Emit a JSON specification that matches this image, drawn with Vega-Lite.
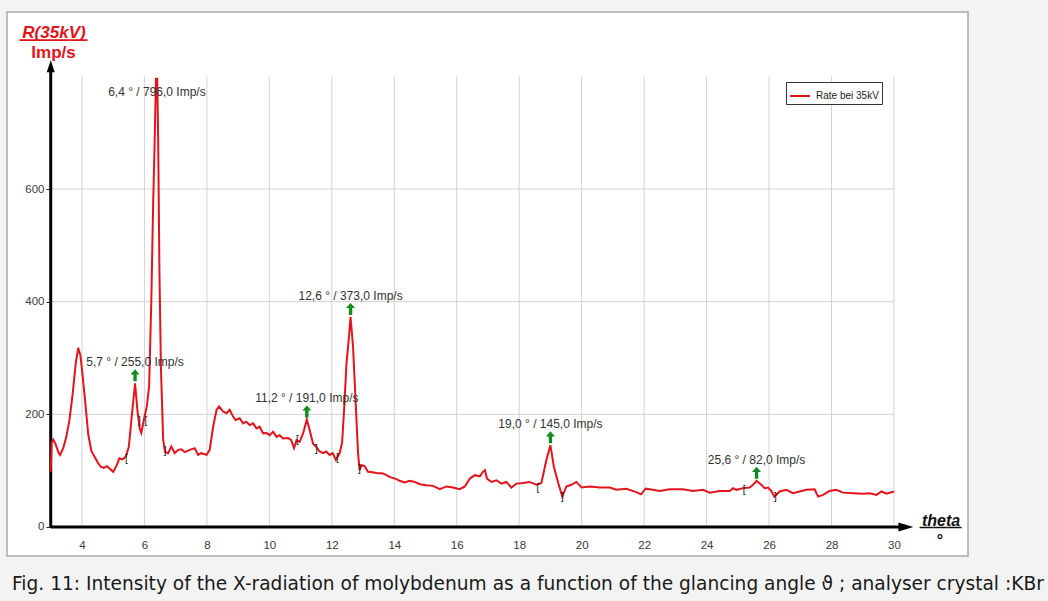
{
  "$schema": "https://vega.github.io/schema/vega-lite/v6.json",
  "width": 961,
  "height": 544,
  "autosize": {"type": "none"},
  "padding": {"left": 7, "top": 12, "right": 80, "bottom": 45},
  "background": "#f3f3f3",
  "config": {
    "view": {"fill": "white", "stroke": "#a9a9a9", "strokeWidth": 1.5},
    "font": "Liberation Sans"
  },
  "title": {
    "text": "Fig. 11: Intensity of the X-radiation of molybdenum as a function of the glancing angle ϑ ; analyser crystal :KBr",
    "orient": "bottom",
    "anchor": "start",
    "frame": "group",
    "font": "DejaVu Sans",
    "fontSize": 18.6,
    "fontWeight": "normal",
    "color": "#1a1a1a",
    "baseline": "alphabetic",
    "offset": 34,
    "dx": 5
  },
  "datasets": {
    "curve": [
      {"theta": 3.00, "rate": 98}, {"theta": 3.03, "rate": 150}, {"theta": 3.08, "rate": 155}, {"theta": 3.15, "rate": 148},
      {"theta": 3.25, "rate": 132}, {"theta": 3.30, "rate": 128}, {"theta": 3.40, "rate": 140}, {"theta": 3.50, "rate": 160},
      {"theta": 3.60, "rate": 190}, {"theta": 3.70, "rate": 235}, {"theta": 3.80, "rate": 290}, {"theta": 3.88, "rate": 318},
      {"theta": 3.95, "rate": 305}, {"theta": 4.00, "rate": 280}, {"theta": 4.10, "rate": 225}, {"theta": 4.20, "rate": 165},
      {"theta": 4.30, "rate": 135}, {"theta": 4.40, "rate": 125}, {"theta": 4.50, "rate": 115}, {"theta": 4.60, "rate": 107},
      {"theta": 4.70, "rate": 105}, {"theta": 4.80, "rate": 108}, {"theta": 4.90, "rate": 103}, {"theta": 5.00, "rate": 98},
      {"theta": 5.10, "rate": 108}, {"theta": 5.20, "rate": 122}, {"theta": 5.30, "rate": 120}, {"theta": 5.40, "rate": 125},
      {"theta": 5.50, "rate": 142}, {"theta": 5.60, "rate": 200}, {"theta": 5.70, "rate": 255}, {"theta": 5.78, "rate": 205},
      {"theta": 5.85, "rate": 175}, {"theta": 5.90, "rate": 167}, {"theta": 5.98, "rate": 190}, {"theta": 6.08, "rate": 215},
      {"theta": 6.15, "rate": 250}, {"theta": 6.22, "rate": 400}, {"theta": 6.28, "rate": 575}, {"theta": 6.33, "rate": 690},
      {"theta": 6.37, "rate": 796}, {"theta": 6.41, "rate": 796}, {"theta": 6.44, "rate": 690}, {"theta": 6.48, "rate": 456},
      {"theta": 6.53, "rate": 280}, {"theta": 6.60, "rate": 155}, {"theta": 6.66, "rate": 133}, {"theta": 6.76, "rate": 131},
      {"theta": 6.86, "rate": 143}, {"theta": 6.97, "rate": 131}, {"theta": 7.08, "rate": 137}, {"theta": 7.18, "rate": 138},
      {"theta": 7.29, "rate": 133}, {"theta": 7.45, "rate": 137}, {"theta": 7.61, "rate": 140}, {"theta": 7.72, "rate": 128},
      {"theta": 7.82, "rate": 131}, {"theta": 7.99, "rate": 128}, {"theta": 8.09, "rate": 137}, {"theta": 8.20, "rate": 178},
      {"theta": 8.31, "rate": 208}, {"theta": 8.39, "rate": 214}, {"theta": 8.52, "rate": 205}, {"theta": 8.63, "rate": 202},
      {"theta": 8.73, "rate": 208}, {"theta": 8.84, "rate": 196}, {"theta": 8.92, "rate": 190}, {"theta": 9.05, "rate": 193},
      {"theta": 9.16, "rate": 184}, {"theta": 9.26, "rate": 187}, {"theta": 9.37, "rate": 181}, {"theta": 9.48, "rate": 184},
      {"theta": 9.59, "rate": 175}, {"theta": 9.69, "rate": 178}, {"theta": 9.80, "rate": 166}, {"theta": 9.90, "rate": 167},
      {"theta": 10.01, "rate": 163}, {"theta": 10.12, "rate": 169}, {"theta": 10.23, "rate": 160}, {"theta": 10.33, "rate": 163},
      {"theta": 10.44, "rate": 157}, {"theta": 10.60, "rate": 158}, {"theta": 10.70, "rate": 154}, {"theta": 10.79, "rate": 140},
      {"theta": 10.87, "rate": 154}, {"theta": 10.97, "rate": 151}, {"theta": 11.08, "rate": 166}, {"theta": 11.20, "rate": 191},
      {"theta": 11.29, "rate": 172}, {"theta": 11.40, "rate": 148}, {"theta": 11.49, "rate": 143}, {"theta": 11.61, "rate": 134},
      {"theta": 11.72, "rate": 131}, {"theta": 11.82, "rate": 134}, {"theta": 11.93, "rate": 128}, {"theta": 12.03, "rate": 131},
      {"theta": 12.13, "rate": 119}, {"theta": 12.25, "rate": 131}, {"theta": 12.33, "rate": 150}, {"theta": 12.40, "rate": 214},
      {"theta": 12.47, "rate": 291}, {"theta": 12.55, "rate": 338}, {"theta": 12.60, "rate": 373}, {"theta": 12.68, "rate": 320},
      {"theta": 12.73, "rate": 261}, {"theta": 12.79, "rate": 190}, {"theta": 12.84, "rate": 131}, {"theta": 12.89, "rate": 101},
      {"theta": 12.95, "rate": 110}, {"theta": 13.05, "rate": 108}, {"theta": 13.16, "rate": 98}, {"theta": 13.30, "rate": 97},
      {"theta": 13.43, "rate": 96}, {"theta": 13.64, "rate": 95}, {"theta": 13.85, "rate": 89}, {"theta": 14.07, "rate": 85},
      {"theta": 14.17, "rate": 82}, {"theta": 14.33, "rate": 79}, {"theta": 14.49, "rate": 82}, {"theta": 14.66, "rate": 80},
      {"theta": 14.82, "rate": 76}, {"theta": 15.03, "rate": 74}, {"theta": 15.24, "rate": 73}, {"theta": 15.46, "rate": 67},
      {"theta": 15.67, "rate": 72}, {"theta": 15.88, "rate": 70}, {"theta": 16.09, "rate": 67}, {"theta": 16.26, "rate": 72},
      {"theta": 16.42, "rate": 86}, {"theta": 16.58, "rate": 92}, {"theta": 16.74, "rate": 90}, {"theta": 16.84, "rate": 98},
      {"theta": 16.90, "rate": 101}, {"theta": 16.97, "rate": 86}, {"theta": 17.11, "rate": 80}, {"theta": 17.27, "rate": 83},
      {"theta": 17.43, "rate": 77}, {"theta": 17.59, "rate": 80}, {"theta": 17.75, "rate": 70}, {"theta": 17.91, "rate": 77},
      {"theta": 18.12, "rate": 78}, {"theta": 18.33, "rate": 80}, {"theta": 18.55, "rate": 75}, {"theta": 18.71, "rate": 78},
      {"theta": 18.87, "rate": 119}, {"theta": 19.00, "rate": 145}, {"theta": 19.11, "rate": 107}, {"theta": 19.25, "rate": 78},
      {"theta": 19.38, "rate": 54}, {"theta": 19.51, "rate": 72}, {"theta": 19.67, "rate": 75}, {"theta": 19.83, "rate": 80},
      {"theta": 20.00, "rate": 70}, {"theta": 20.26, "rate": 72}, {"theta": 20.58, "rate": 70}, {"theta": 20.90, "rate": 70},
      {"theta": 21.11, "rate": 66}, {"theta": 21.43, "rate": 68}, {"theta": 21.75, "rate": 62}, {"theta": 21.90, "rate": 58},
      {"theta": 22.05, "rate": 68}, {"theta": 22.18, "rate": 67}, {"theta": 22.50, "rate": 64}, {"theta": 22.82, "rate": 67},
      {"theta": 23.24, "rate": 67}, {"theta": 23.56, "rate": 64}, {"theta": 23.89, "rate": 66}, {"theta": 24.10, "rate": 61},
      {"theta": 24.42, "rate": 64}, {"theta": 24.74, "rate": 64}, {"theta": 24.85, "rate": 69}, {"theta": 24.96, "rate": 66},
      {"theta": 25.17, "rate": 69}, {"theta": 25.38, "rate": 70}, {"theta": 25.49, "rate": 75}, {"theta": 25.60, "rate": 82},
      {"theta": 25.75, "rate": 75}, {"theta": 25.86, "rate": 69}, {"theta": 25.97, "rate": 70}, {"theta": 26.07, "rate": 64},
      {"theta": 26.17, "rate": 54}, {"theta": 26.34, "rate": 63}, {"theta": 26.55, "rate": 66}, {"theta": 26.77, "rate": 60},
      {"theta": 26.98, "rate": 63}, {"theta": 27.19, "rate": 66}, {"theta": 27.46, "rate": 67}, {"theta": 27.57, "rate": 54},
      {"theta": 27.73, "rate": 57}, {"theta": 27.94, "rate": 64}, {"theta": 28.15, "rate": 66}, {"theta": 28.37, "rate": 61},
      {"theta": 28.69, "rate": 60}, {"theta": 29.02, "rate": 59}, {"theta": 29.23, "rate": 60}, {"theta": 29.44, "rate": 57},
      {"theta": 29.60, "rate": 63}, {"theta": 29.76, "rate": 59}, {"theta": 30.00, "rate": 63}
    ],
    "peaks": [
      {"theta": 5.7, "rate": 255, "label": "5,7 ° / 255,0 Imp/s", "top": "no"},
      {"theta": 6.4, "rate": 796, "label": "6,4 ° / 796,0 Imp/s", "top": "yes"},
      {"theta": 11.2, "rate": 191, "label": "11,2 ° / 191,0 Imp/s", "top": "no"},
      {"theta": 12.6, "rate": 373, "label": "12,6 ° / 373,0 Imp/s", "top": "no"},
      {"theta": 19.0, "rate": 145, "label": "19,0 ° / 145,0 Imp/s", "top": "no"},
      {"theta": 25.6, "rate": 82, "label": "25,6 ° / 82,0 Imp/s", "top": "no"}
    ],
    "limits": [
      {"theta": 5.42, "rate": 121, "mark": "["},
      {"theta": 5.84, "rate": 188, "mark": "]"},
      {"theta": 6.05, "rate": 188, "mark": "["},
      {"theta": 6.66, "rate": 135, "mark": "]"},
      {"theta": 10.90, "rate": 154, "mark": "["},
      {"theta": 11.51, "rate": 138, "mark": "]"},
      {"theta": 12.18, "rate": 122, "mark": "["},
      {"theta": 12.88, "rate": 103, "mark": "]"},
      {"theta": 18.60, "rate": 69, "mark": "["},
      {"theta": 19.38, "rate": 53, "mark": "]"},
      {"theta": 25.20, "rate": 66, "mark": "["},
      {"theta": 26.20, "rate": 53, "mark": "]"}
    ],
    "vgrid": [
      {"theta": 4}, {"theta": 6}, {"theta": 8}, {"theta": 10}, {"theta": 12}, {"theta": 14}, {"theta": 16},
      {"theta": 18}, {"theta": 20}, {"theta": 22}, {"theta": 24}, {"theta": 26}, {"theta": 28}, {"theta": 30}
    ],
    "hgrid": [{"rate": 200}, {"rate": 400}, {"rate": 600}],
    "one": [{"k": 1}]
  },
  "layer": [
    {
      "data": {"name": "vgrid"},
      "mark": {"type": "rule", "color": "#d2d2d2", "strokeWidth": 1},
      "encoding": {
        "x": {"field": "theta", "type": "quantitative",
          "scale": {"domain": [1.6, 32.37], "nice": false, "zero": false},
          "axis": {"orient": "bottom", "offset": -29, "domain": false, "ticks": false, "labels": false, "grid": false,
            "title": "———", "titleFont": "Liberation Sans", "titleFontSize": 14, "titleFontWeight": "bold", "titleColor": "#111",
            "titleX": 933, "titleY": 4.8, "titleAlign": "center", "titleBaseline": "alphabetic", "titleAngle": 0}},
        "y": {"datum": 0, "type": "quantitative",
          "scale": {"domain": [-51.5, 914.3], "nice": false, "zero": false},
          "axis": {"orient": "left", "offset": -44, "domain": false, "ticks": false, "labels": false, "grid": false,
            "title": "Imp/s", "titleFont": "Liberation Sans", "titleFontSize": 17, "titleFontWeight": "bold", "titleColor": "#e3141b",
            "titleX": 2, "titleY": 45, "titleAlign": "center", "titleBaseline": "alphabetic", "titleAngle": 0}},
        "y2": {"datum": 800}
      }
    },
    {
      "data": {"name": "hgrid"},
      "mark": {"type": "rule", "color": "#d2d2d2", "strokeWidth": 1},
      "encoding": {
        "y": {"field": "rate", "type": "quantitative",
          "scale": {"domain": [-51.5, 914.3], "nice": false, "zero": false},
          "axis": {"orient": "left", "offset": -44, "domain": false, "ticks": false, "labels": false, "grid": false,
            "title": "————", "titleFont": "Liberation Sans", "titleFontSize": 17, "titleFontWeight": "bold", "titleColor": "#e3141b",
            "titleX": 2, "titleY": 32.6, "titleAlign": "center", "titleBaseline": "alphabetic", "titleAngle": 0}},
        "x": {"datum": 3, "type": "quantitative",
          "scale": {"domain": [1.6, 32.37], "nice": false, "zero": false},
          "axis": {"orient": "bottom", "offset": -29, "domain": false, "ticks": false, "labels": false, "grid": false,
            "title": "°", "titleFont": "Liberation Sans", "titleFontSize": 16, "titleFontWeight": "bold", "titleColor": "#111",
            "titleX": 932.5, "titleY": 18.7, "titleAlign": "center", "titleBaseline": "alphabetic", "titleAngle": 0}},
        "x2": {"datum": 30}
      }
    },
    {
      "data": {"name": "one"},
      "mark": {"type": "rule", "color": "#000000", "strokeWidth": 3},
      "encoding": {
        "x": {"datum": 3, "type": "quantitative", "scale": {"domain": [1.6, 32.37], "nice": false, "zero": false}, "axis": null},
        "x2": {"datum": 30.2},
        "y": {"datum": 0, "type": "quantitative", "scale": {"domain": [-51.5, 914.3], "nice": false, "zero": false}, "axis": null}
      }
    },
    {
      "data": {"name": "one"},
      "mark": {"type": "rule", "color": "#000000", "strokeWidth": 3},
      "encoding": {
        "x": {"datum": 3, "type": "quantitative", "scale": {"domain": [1.6, 32.37], "nice": false, "zero": false}, "axis": null},
        "y": {"datum": 0, "type": "quantitative", "scale": {"domain": [-51.5, 914.3], "nice": false, "zero": false}, "axis": null},
        "y2": {"datum": 810}
      }
    },
    {
      "data": {"name": "one"},
      "mark": {"type": "point", "shape": "M-1,-0.6L1,0L-1,0.6Z", "size": 225, "filled": true, "color": "#000000", "opacity": 1},
      "encoding": {
        "x": {"datum": 30.38, "type": "quantitative", "scale": {"domain": [1.6, 32.37], "nice": false, "zero": false}, "axis": null},
        "y": {"datum": 0, "type": "quantitative", "scale": {"domain": [-51.5, 914.3], "nice": false, "zero": false}, "axis": null}
      }
    },
    {
      "data": {"name": "one"},
      "mark": {"type": "point", "shape": "M-0.67,1L0,-1L0.67,1Z", "size": 144, "filled": true, "color": "#000000", "opacity": 1},
      "encoding": {
        "x": {"datum": 3, "type": "quantitative", "scale": {"domain": [1.6, 32.37], "nice": false, "zero": false}, "axis": null},
        "y": {"datum": 818, "type": "quantitative", "scale": {"domain": [-51.5, 914.3], "nice": false, "zero": false}, "axis": null}
      }
    },
    {
      "data": {"name": "curve"},
      "mark": {"type": "line", "strokeWidth": 2, "interpolate": "linear"},
      "encoding": {
        "x": {"field": "theta", "type": "quantitative",
          "scale": {"domain": [1.6, 32.37], "nice": false, "zero": false},
          "axis": {"orient": "bottom", "offset": -29, "values": [4, 6, 8, 10, 12, 14, 16, 18, 20, 22, 24, 26, 28, 30],
            "domain": false, "ticks": false, "tickSize": 0, "grid": false, "labelFlush": false, "labelOverlap": false,
            "labelFont": "Liberation Sans", "labelFontSize": 11.5, "labelColor": "#3a3a3a", "labelPadding": 12,
            "title": "theta", "titleFont": "Liberation Sans", "titleFontSize": 16, "titleFontWeight": "bold", "titleFontStyle": "italic",
            "titleColor": "#111111", "titleX": 933.5, "titleY": -2, "titleAlign": "center", "titleBaseline": "alphabetic", "titleAngle": 0}},
        "y": {"field": "rate", "type": "quantitative",
          "scale": {"domain": [-51.5, 914.3], "nice": false, "zero": false},
          "axis": {"orient": "left", "offset": -44, "values": [0, 200, 400, 600],
            "domain": false, "ticks": true, "tickSize": 5, "tickColor": "#222222", "tickWidth": 1, "grid": false,
            "labelFont": "Liberation Sans", "labelFontSize": 11.5, "labelColor": "#3a3a3a", "labelPadding": 2, "labelFlush": false,
            "title": "R(35kV)", "titleFont": "Liberation Sans", "titleFontSize": 17, "titleFontWeight": "bold", "titleFontStyle": "italic",
            "titleColor": "#e3141b", "titleX": 2.5, "titleY": 25, "titleAlign": "center", "titleBaseline": "alphabetic", "titleAngle": 0}},
        "color": {"datum": "Rate bei 35kV", "type": "nominal",
          "scale": {"domain": ["Rate bei 35kV"], "range": ["#e3141b"]},
          "legend": {"orient": "none", "legendX": 779, "legendY": 70, "title": null, "symbolType": "stroke", "symbolSize": 400,
            "symbolStrokeWidth": 2, "labelFont": "Liberation Sans", "labelFontSize": 10, "labelColor": "#222222",
            "padding": 3, "strokeColor": "#333333", "fillColor": "#ffffff", "labelOffset": 5}}
      }
    },
    {
      "data": {"name": "peaks"},
      "transform": [{"filter": "datum.top == 'no'"}],
      "mark": {"type": "text", "dy": -21, "font": "Liberation Sans", "fontSize": 12, "color": "#333333", "align": "center", "baseline": "middle"},
      "encoding": {
        "x": {"field": "theta", "type": "quantitative", "scale": {"domain": [1.6, 32.37], "nice": false, "zero": false}, "axis": null},
        "y": {"field": "rate", "type": "quantitative", "scale": {"domain": [-51.5, 914.3], "nice": false, "zero": false}, "axis": null},
        "text": {"field": "label"}
      }
    },
    {
      "data": {"name": "peaks"},
      "transform": [{"filter": "datum.top == 'yes'"}],
      "mark": {"type": "text", "dy": 13.5, "font": "Liberation Sans", "fontSize": 12, "color": "#333333", "align": "center", "baseline": "middle"},
      "encoding": {
        "x": {"field": "theta", "type": "quantitative", "scale": {"domain": [1.6, 32.37], "nice": false, "zero": false}, "axis": null},
        "y": {"field": "rate", "type": "quantitative", "scale": {"domain": [-51.5, 914.3], "nice": false, "zero": false}, "axis": null},
        "text": {"field": "label"}
      }
    },
    {
      "data": {"name": "peaks"},
      "transform": [{"filter": "datum.top == 'no'"}],
      "mark": {"type": "point", "shape": "M0,-1L0.75,-0.15L0.28,-0.15L0.28,1L-0.28,1L-0.28,-0.15L-0.75,-0.15Z", "size": 144,
        "filled": true, "color": "#108c1c", "opacity": 1, "yOffset": -8},
      "encoding": {
        "x": {"field": "theta", "type": "quantitative", "scale": {"domain": [1.6, 32.37], "nice": false, "zero": false}, "axis": null},
        "y": {"field": "rate", "type": "quantitative", "scale": {"domain": [-51.5, 914.3], "nice": false, "zero": false}, "axis": null}
      }
    },
    {
      "data": {"name": "limits"},
      "mark": {"type": "text", "font": "Liberation Sans", "fontSize": 10, "color": "#111111", "align": "center", "baseline": "middle"},
      "encoding": {
        "x": {"field": "theta", "type": "quantitative", "scale": {"domain": [1.6, 32.37], "nice": false, "zero": false}, "axis": null},
        "y": {"field": "rate", "type": "quantitative", "scale": {"domain": [-51.5, 914.3], "nice": false, "zero": false}, "axis": null},
        "text": {"field": "mark"}
      }
    }
  ],
  "resolve": {"axis": {"x": "independent", "y": "independent"}}
}
